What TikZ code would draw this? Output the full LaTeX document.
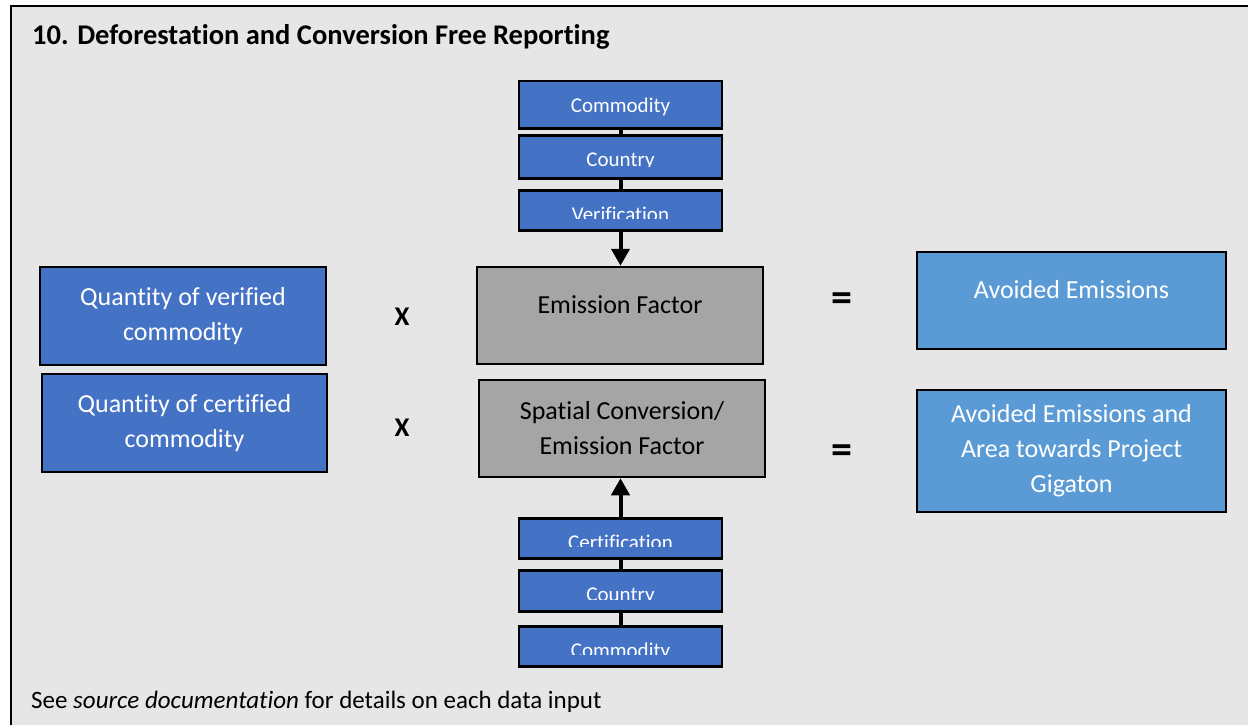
\documentclass[tikz,border=0pt]{standalone}
\usepackage{fontspec}
\setmainfont{Carlito}[Ligatures={NoCommon,NoContextual}]
\usetikzlibrary{arrows.meta}
\definecolor{bgc}{HTML}{E7E6E6}
\definecolor{blueA}{HTML}{4472C4}
\definecolor{blueB}{HTML}{5B9BD5}
\definecolor{grayA}{HTML}{A5A5A5}
\tikzset{
  boxbase/.style={draw=black, line width=2.5pt, inner sep=0pt, align=center, font=\fontsize{26}{35}\selectfont},
  bluebox/.style={boxbase, fill=blueA, text=white},
  resbox/.style={boxbase, fill=blueB, text=white},
  graybox/.style={boxbase, fill=grayA, text=black},
  boxtext/.style={inner sep=0pt, align=center, font=\fontsize{26}{35}\selectfont},
  smallbox/.style={draw=black, line width=2.5pt, fill=blueA, inner sep=0pt, minimum width=203pt},
  stacktext/.style={inner sep=0pt, text=white, font=\fontsize{21}{25}\selectfont},
  conn/.style={line width=4pt, draw=black},
  arrowconn/.style={conn, -{Triangle[width=18pt,length=17pt]}},
  opsign/.style={inner sep=0pt, font=\bfseries\fontsize{27}{30}\selectfont},
  eqsign/.style={inner sep=0pt, font=\bfseries\fontsize{42}{44}\selectfont}
}
\newcommand\stackitem[4]{%
  \node[smallbox, minimum height={#3-#2}, anchor=north] (#1) at (620.5,#2) {};
  \begin{scope}
    \clip (519,#2) rectangle (722,#3-11);
    \node[stacktext, anchor=base] (#1t) at (620.5,#2+32) {#4};
  \end{scope}}
\begin{document}
\begin{tikzpicture}[x=1pt,y=-1pt]
\useasboundingbox (0,0) rectangle (1248,725);
\clip (0,0) rectangle (1248,725);
\fill[white] (0,0) rectangle (1248,725);
\draw[fill=bgc, line width=2.5pt] (11,6) rectangle (1275,760);

% title
\node[inner sep=0pt, anchor=base west, font=\bfseries\fontsize{28.5}{32}\selectfont] (title) at (32,45) {10. Deforestation and Conversion Free Reporting};

% left input boxes
\node[bluebox, minimum width=286pt, minimum height=98pt] (q1) at (183,316) {Quantity of verified\\commodity};
\node[bluebox, minimum width=285pt, minimum height=98pt] (q2) at (184.5,423) {Quantity of certified\\commodity};

% operators
\node[opsign] (x1) at (402,317) {X};
\node[opsign] (x2) at (402,428) {X};
\node[eqsign] (e1) at (842,302) {=};
\node[eqsign] (e2) at (842,454) {=};

% factor boxes
\node[graybox, minimum width=286pt, minimum height=97pt] (ef) at (620,315.5) {};
\node[boxtext] (eft) at (620,305) {Emission Factor};
\node[graybox, minimum width=286pt, minimum height=97pt] (sc) at (622,428.5) {Spatial Conversion/\\Emission Factor};

% result boxes
\node[resbox, minimum width=309pt, minimum height=97pt] (ae) at (1071.5,300.5) {};
\node[boxtext, text=white] (aet) at (1071.5,290) {Avoided Emissions};
\node[resbox, minimum width=309pt, minimum height=122pt] (ag) at (1071.5,451) {Avoided Emissions and\\Area towards Project\\Gigaton};

% top stack
\stackitem{c1}{80}{127}{Commodity}
\stackitem{c2}{134}{177}{Country}
\stackitem{c3}{189}{229}{Verification}
\draw[conn] (c1.south) -- (c2.north);
\draw[conn] (c2.south) -- (c3.north);
\draw[arrowconn] (c3.south) -- (c3.south |- ef.north);

% bottom stack
\stackitem{b1}{517}{557}{Certification}
\stackitem{b2}{569}{610}{Country}
\stackitem{b3}{625}{665}{Commodity}
\draw[conn] (b2.north) -- (b1.south);
\draw[conn] (b3.north) -- (b2.south);
\draw[arrowconn] (b1.north) -- (b1.north |- sc.south);

% footnote
\node[inner sep=0pt, anchor=base west, font=\fontsize{25}{30}\selectfont] (note) at (31,708) {See \textit{source documentation} for details on each data input};
\end{tikzpicture}
\end{document}
